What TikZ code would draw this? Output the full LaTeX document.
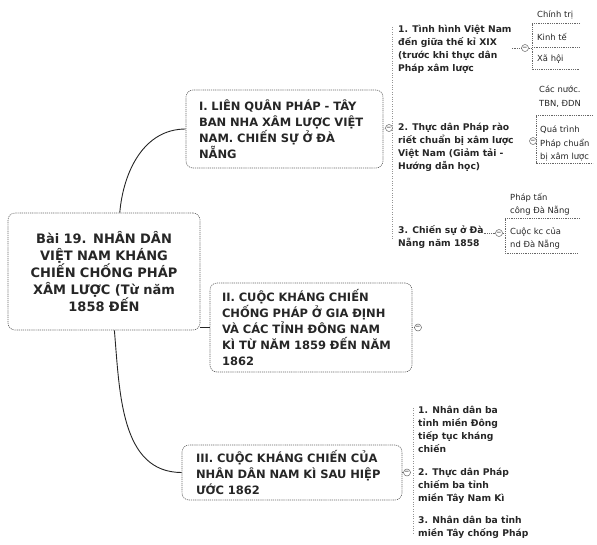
\documentclass[tikz,border=0pt]{standalone}
\usepackage{fontspec}
\setmainfont{DejaVu Sans}
\usetikzlibrary{positioning, calc}
\definecolor{ink}{HTML}{262626}
\definecolor{wire}{HTML}{666666}

\begin{document}
\begin{tikzpicture}[
    x = 1pt, y = -1pt,
    topic/.style = { draw = wire, line width = 0.6pt, dash pattern = on 1.2pt off 0.9pt, rounded corners = 7pt, text = ink, align = left, font = \bfseries\fontsize{11.5}{16}\selectfont },
    branch/.style = { draw = ink, line width = 0.9pt },
    spine/.style = { draw = wire!70, line width = 0.5pt, dash pattern = on 0.8pt off 1.6pt },
    rule/.style = { draw = wire, line width = 0.6pt, dash pattern = on 1pt off 0.8pt }
]
    \tikzstyle{leaf} = [anchor = north west, inner sep = 0pt, align = left, text = ink, font = \bfseries\fontsize{9.2}{13}\selectfont];
    \tikzstyle{detail} = [anchor = north west, inner sep = 0pt, align = left, text = ink, font = \fontsize{8.4}{13.5}\selectfont];
    \tikzstyle{fold} = [circle, draw = wire, line width = 0.5pt, fill = white, minimum size = 7pt, inner sep = 0pt, font = \fontsize{6}{6}\selectfont];

    \useasboundingbox (0, 0) rectangle (597, 544);

    % central topic
    \node[topic, align = center, text width = 180pt, inner xsep = 6pt, minimum height = 117pt, font = \bfseries\fontsize{13}{17}\selectfont] (root) at (104, 271.5)
        {Bài 19. NHÂN DÂN\\VIỆT NAM KHÁNG\\CHIẾN CHỐNG PHÁP\\XÂM LƯỢC (Từ năm\\1858 ĐẾN};

    % main topics
    \node[topic, text width = 171pt, inner xsep = 13pt, minimum height = 78pt] (topicI) at (284.5, 129)
        {I. LIÊN QUÂN PHÁP - TÂY\\BAN NHA XÂM LƯỢC VIỆT\\NAM. CHIẾN SỰ Ở ĐÀ\\NẴNG};
    \node[topic, text width = 178pt, inner xsep = 12pt, minimum height = 89pt] (topicII) at (311, 327.5)
        {II. CUỘC KHÁNG CHIẾN\\CHỐNG PHÁP Ở GIA ĐỊNH\\VÀ CÁC TỈNH ĐÔNG NAM\\KÌ TỪ NĂM 1859 ĐẾN NĂM\\1862};
    \node[topic, text width = 192pt, inner xsep = 14pt, minimum height = 55pt] (topicIII) at (292, 472.5)
        {III. CUỘC KHÁNG CHIẾN CỦA\\NHÂN DÂN NAM KÌ SAU HIỆP\\ƯỚC 1862};

    \draw[branch] (root.75) to[out = 85, in = 180] (topicI.west);
    \draw[branch] (root.east |- topicII.west) -- (topicII.west);
    \draw[branch] (root.-80) to[out = -85, in = 180] (topicIII.west);

    % subtopics of I
    \node[leaf] (leafIa) at (398, 25) {1. Tình hình Việt Nam\\đến giữa thế kỉ XIX\\(trước khi thực dân\\Pháp xâm lược};
    \node[leaf] (leafIb) at (398, 123) {2. Thực dân Pháp rào\\riết chuẩn bị xâm lược\\Việt Nam (Giảm tải -\\Hướng dẫn học)};
    \node[leaf] (leafIc) at (398, 225) {3. Chiến sự ở Đà\\Nẵng năm 1858};
    \coordinate (spineItop) at (392, 27);
    \coordinate (spineIbot) at (392, 240);
    \draw[spine] (spineItop) -- (spineIbot);
    \node[fold] (foldI) at (389, 128) {−};
    \draw[rule] (topicI.east) -- (foldI);
    \node[fold] (foldII) at (418, 327.5) {−};
    \draw[rule] (topicII.east) -- (foldII);

    % details of 1.
    \node[detail] (politics) at (537, 11) {Chính trị};
    \node[detail] (economy) at (537, 33) {Kinh tế};
    \node[detail] (society) at (537, 55) {Xã hội};
    \coordinate (bkAtop) at (532, 23);
    \coordinate (bkAtopEnd) at (580, 23);
    \coordinate (bkAmid) at (532, 47);
    \coordinate (bkAmidEnd) at (580, 47);
    \coordinate (bkAbot) at (532, 69);
    \coordinate (bkAbotEnd) at (580, 69);
    \draw[rule] (bkAtopEnd) -- (bkAtop) -- (bkAbot) -- (bkAbotEnd);
    \draw[rule] (bkAmid) -- (bkAmidEnd);
    \node[fold] (foldIa) at (525, 48) {−};
    \draw[rule] (leafIa.east |- foldIa) -- (foldIa) -- (bkAmid |- foldIa);

    % details of 2.
    \node[detail] (powers) at (539, 86) {Các nước.\\TBN, ĐDN};
    \node[detail] (process) at (540, 126) {Quá trình\\Pháp chuẩn\\bị xâm lược};
    \coordinate (bkBtop) at (536, 115);
    \coordinate (bkBtopEnd) at (593, 115);
    \coordinate (bkBbot) at (536, 163);
    \coordinate (bkBbotEnd) at (593, 163);
    \draw[rule] (bkBtopEnd) -- (bkBtop) -- (bkBbot) -- (bkBbotEnd);
    \node[fold] (foldIb) at (533, 141) {−};

    % details of 3.
    \node[detail] (attack) at (510, 193) {Pháp tấn\\công Đà Nẵng};
    \node[detail] (resist) at (510, 227) {Cuộc kc của\\nd Đà Nẵng};
    \coordinate (bkCtop) at (505, 218);
    \coordinate (bkCtopEnd) at (580, 218);
    \coordinate (bkCbot) at (505, 253);
    \coordinate (bkCbotEnd) at (578, 253);
    \draw[rule] (bkCtopEnd) -- (bkCtop) -- (bkCbot) -- (bkCbotEnd);
    \node[fold] (foldIc) at (499, 233) {−};
    \draw[rule] (leafIc.east |- foldIc) -- (foldIc) -- (bkCtop |- foldIc);

    % subtopics of III
    \node[leaf] (leafIIIa) at (418, 406) {1. Nhân dân ba\\tỉnh miền Đông\\tiếp tục kháng\\chiến};
    \node[leaf] (leafIIIb) at (418, 468) {2. Thực dân Pháp\\chiếm ba tỉnh\\miền Tây Nam Kì};
    \node[leaf] (leafIIIc) at (418, 516) {3. Nhân dân ba tỉnh\\miền Tây chống Pháp};
    \coordinate (spineIIItop) at (413, 408);
    \coordinate (spineIIIbot) at (413, 535);
    \draw[spine] (spineIIItop) -- (spineIIIbot);
    \node[fold] (foldIII) at (407, 472.5) {−};
    \draw[rule] (topicIII.east) -- (foldIII);
\end{tikzpicture}
\end{document}
